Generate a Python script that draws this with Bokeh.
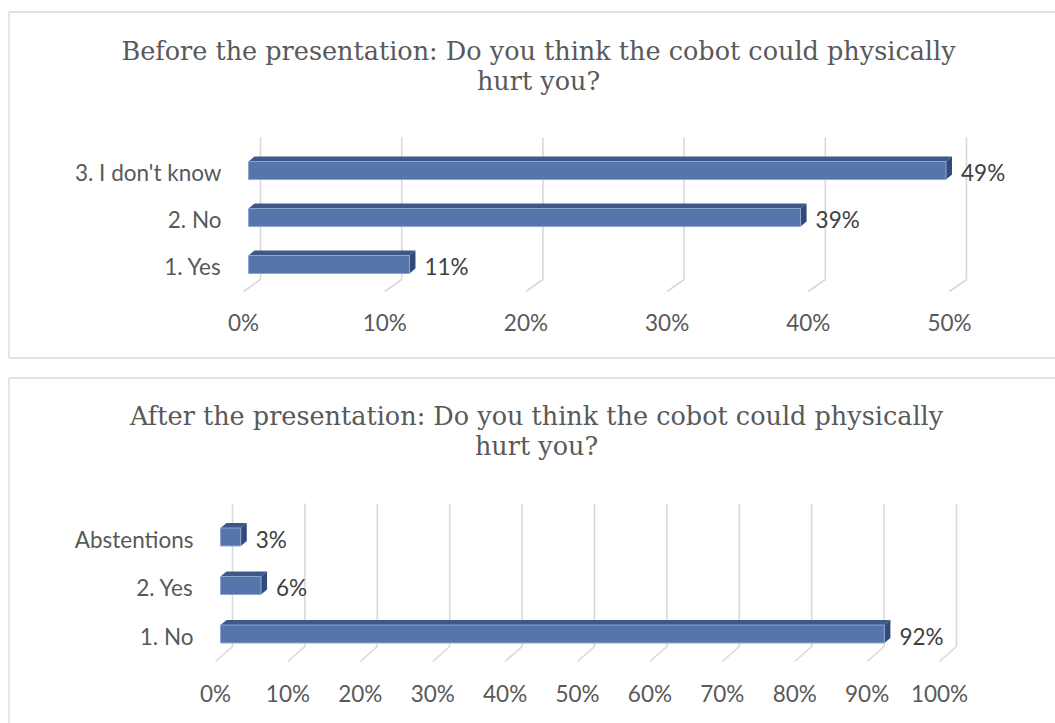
from bokeh.plotting import figure
from bokeh.layouts import column
from bokeh.models import Range1d
from bokeh.core.properties import value
from bokeh.embed import file_html
from bokeh.resources import INLINE

# ---------------- data ----------------
before_title = ["Before the presentation: Do you think the cobot could physically", "hurt you?"]
before_cats = ["1. Yes", "2. No", "3. I don't know"]
before_vals = [11.4, 39.1, 49.4]
before_labels = ["11%", "39%", "49%"]
before_ticks = [0, 10, 20, 30, 40, 50]

after_title = ["After the presentation: Do you think the cobot could physically", "hurt you?"]
after_cats = ["1. No", "2. Yes", "Abstentions"]
after_vals = [91.7, 5.6, 2.8]
after_labels = ["92%", "6%", "3%"]
after_ticks = [0, 10, 20, 30, 40, 50, 60, 70, 80, 90, 100]

SANS = "Lato"
SERIF = "DejaVu Serif"
W = 1055


def panel(cats, vals, labels, ticks, title, g):
    H = g["H"]
    x0, sx, c0, step = g["x0"], g["sx"], g["c0"], g["step"]
    p = figure(width=W, height=H, output_backend="svg", toolbar_location=None,
               x_axis_location=None, y_axis_location=None, min_border=0,
               x_range=Range1d(-x0 / sx, (W - x0) / sx),
               y_range=Range1d((c0 - H) / step, c0 / step))
    p.grid.visible = False
    p.outline_line_color = None
    p.background_fill_color = "white"
    p.border_fill_color = "white"

    def X(pct, dpx=0.0):
        return pct + dpx / sx

    def Y(i, dpy=0.0):  # dpy: pixels downward
        return i - dpy / step

    def YA(ypix):
        return (c0 - ypix) / step

    # border box
    bl, bt, bb = g["box"]
    p.multi_line(xs=[[X(0, bl - x0), X(0, bl - x0)], [X(0, bl - x0), X(0, W + 20 - x0)],
                     [X(0, bl - x0), X(0, W + 20 - x0)]],
                 ys=[[YA(bt), YA(bb)], [YA(bt), YA(bt)], [YA(bb), YA(bb)]],
                 line_color="#d9d9d9", line_width=1.3)

    # title
    tx, ty1, ty2 = g["title"]
    p.text(x=[X(0, tx - x0)] * 2, y=[YA(ty1), YA(ty2)], text=title,
           text_font=value(SERIF), text_font_size=g["tfs"], text_color="#595959",
           text_align="center", text_baseline="middle")

    # gridlines (back wall + floor)
    gt, gb, gf, gd = g["grid"]
    p.multi_line(xs=[[X(t, gd), X(t, gd), X(t, 0)] for t in ticks],
                 ys=[[YA(gt), YA(gb), YA(gf)] for t in ticks],
                 line_color="#d9d9d9", line_width=1.6)

    # tick labels
    p.text(x=[X(t) for t in ticks], y=[YA(g["ticky"])] * len(ticks),
           text=["%d%%" % t for t in ticks], text_font=value(SANS),
           text_font_size=g["fs"], text_color="#595959",
           text_align="center", text_baseline="middle")

    # bars (3D)
    idx = list(range(len(vals)))
    f0, f1 = 5, 11
    hh, dz = 9, 5
    p.patches(xs=[[X(0, f0), X(v, f0), X(v, f1), X(0, f1)] for v in vals],
              ys=[[Y(i, -hh), Y(i, -hh), Y(i, -hh - dz), Y(i, -hh - dz)] for i in idx],
              fill_color="#3e5986", line_color=None)
    p.patches(xs=[[X(v, f0), X(v, f1), X(v, f1), X(v, f0)] for v in vals],
              ys=[[Y(i, -hh), Y(i, -hh - dz), Y(i, hh - dz), Y(i, hh)] for i in idx],
              fill_color="#32497a", line_color=None)
    p.quad(left=[X(0, f0)] * len(vals), right=[X(v, f0) for v in vals],
           top=[Y(i, -hh) for i in idx], bottom=[Y(i, hh) for i in idx],
           fill_color="#5576ab", line_color="#8ea6cf", line_width=1)

    # category labels
    p.text(x=[X(0, -22)] * len(cats), y=[Y(i, 2) for i in idx], text=cats,
           text_font=value(SANS), text_font_size=g["fs"], text_color="#595959",
           text_align="right", text_baseline="middle")

    # data labels
    p.text(x=[X(v, f1 + 9) for v in vals], y=[Y(i, 2) for i in idx], text=labels,
           text_font=value(SANS), text_font_size=g["fs"], text_color="#404040",
           text_align="left", text_baseline="middle")
    return p


g1 = dict(H=368, x0=243, sx=14.12, c0=264, step=47,
          box=(8.5, 11.5, 357.5), title=(538, 50, 80), tfs="25.5px",
          grid=(137, 279, 291, 17), ticky=322, fs="22.5px")
g2 = dict(H=355, x0=215, sx=7.24, c0=265.5, step=48.5,
          box=(8.5, 9.5, 420), title=(536, 47, 77), tfs="25.5px",
          grid=(135, 278, 293, 17), ticky=325, fs="22.5px")

p1 = panel(before_cats, before_vals, before_labels, before_ticks, before_title, g1)
p2 = panel(after_cats, after_vals, after_labels, after_ticks, after_title, g2)

layout = column(p1, p2, spacing=0)
open("out.html", "w").write(file_html(layout, INLINE))
